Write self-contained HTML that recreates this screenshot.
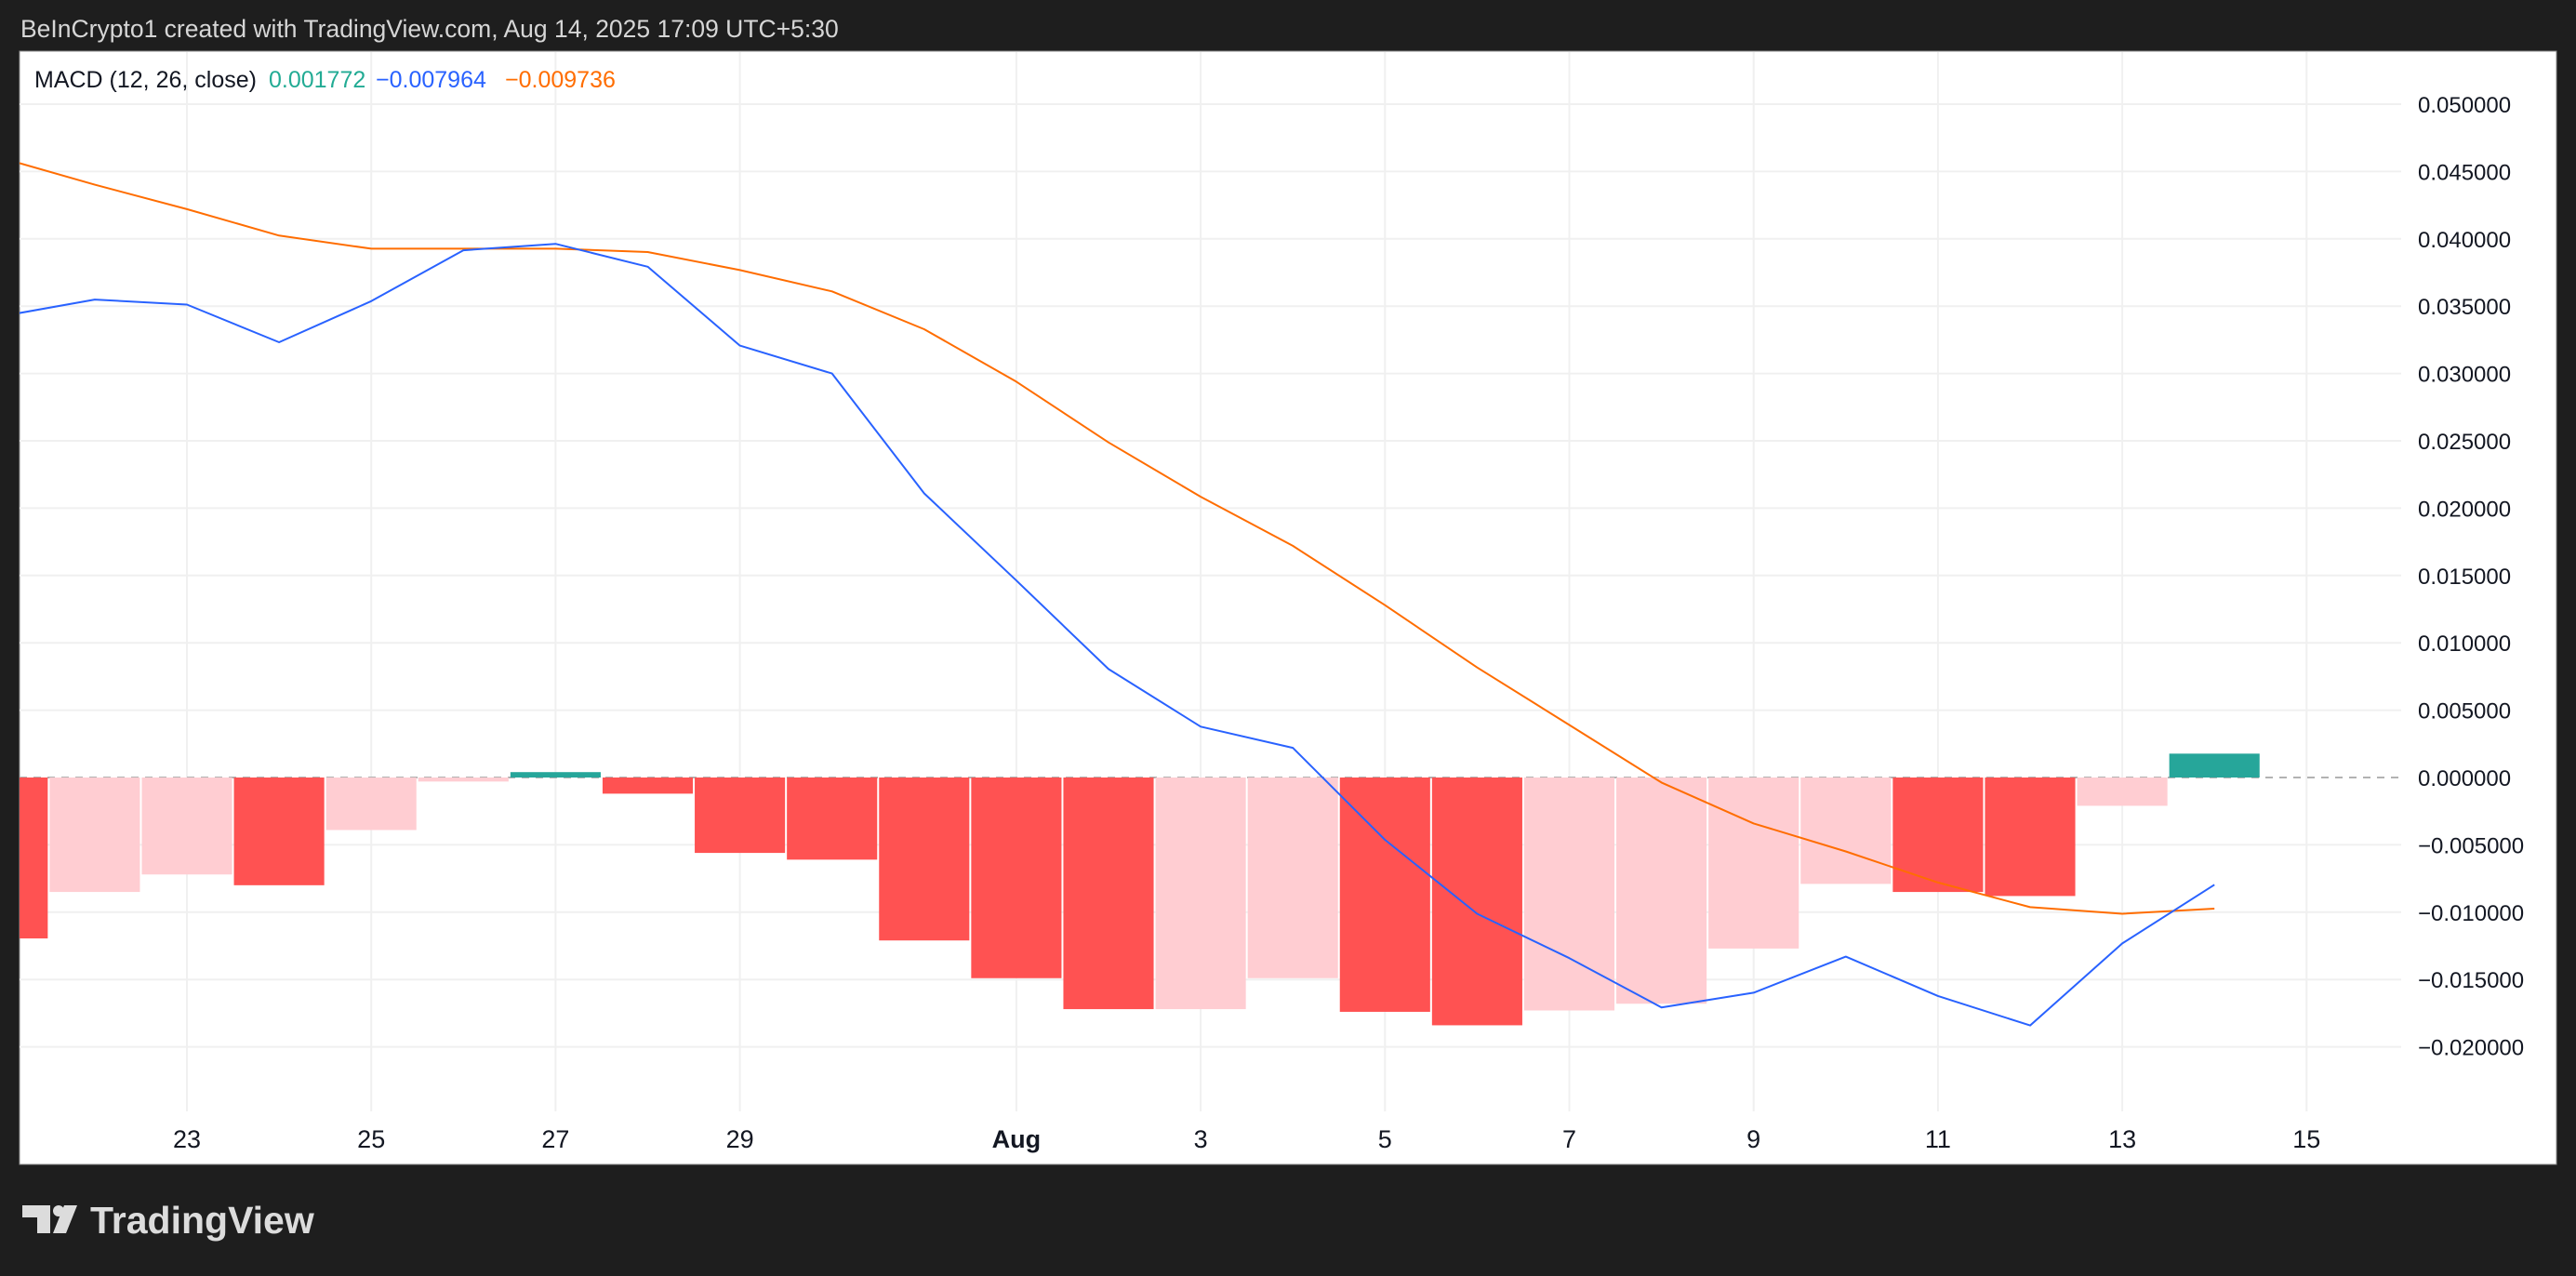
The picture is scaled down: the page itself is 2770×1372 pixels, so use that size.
<!DOCTYPE html>
<html><head><meta charset="utf-8">
<style>
html,body{margin:0;padding:0;background:#1e1e1e;}
svg{display:block;}
text{font-family:"Liberation Sans",sans-serif;}
</style></head>
<body>
<svg id="chart" width="2770" height="1372" viewBox="0 0 2770 1372" xmlns="http://www.w3.org/2000/svg">
  <rect x="0" y="0" width="2770" height="1372" fill="#1e1e1e"/>
  <text x="22" y="40" font-size="26.5" fill="#d6d6d6">BeInCrypto1 created with TradingView.com, Aug 14, 2025 17:09 UTC+5:30</text>
  <rect x="21" y="55" width="2728" height="1197" fill="#ffffff" stroke="#8a8a8a" stroke-width="1"/>
  <g id="grid"></g>
  <g id="zero"></g>
  <defs><clipPath id="plotClip"><rect x="21" y="56" width="2561" height="1195"/></clipPath></defs>
  <g id="bars" clip-path="url(#plotClip)"></g>
  <g id="lines" clip-path="url(#plotClip)"></g>
  <g id="yaxis"></g>
  <g id="xaxis"></g>
  <g>
    <text x="37" y="94" font-size="25" fill="#131722">MACD (12, 26, close)</text>
    <text x="289" y="94" font-size="25" fill="#22ab94">0.001772</text>
    <text x="404" y="94" font-size="25" fill="#2962ff">−0.007964</text>
    <text x="543" y="94" font-size="25" fill="#ff6d00">−0.009736</text>
  </g>
  <g>
    <path d="M24 1296 H54 V1326 H40 V1309 H24 Z" fill="#dcdcdc"/>
    <circle cx="63" cy="1302" r="6" fill="#dcdcdc"/>
    <path d="M69 1296 H83 L71 1326 H57 Z" fill="#dcdcdc"/>
    <text x="97" y="1326" font-size="41" font-weight="bold" fill="#dcdcdc">TradingView</text>
  </g>
</svg>
<script>
const days = [21,22,23,24,25,26,27,28,29,30,31,32,33,34,35,36,37,38,39,40,41,42,43,44,45];
const histValues = [-0.01195,-0.0085,-0.0072,-0.0080,-0.0039,-0.0003,0.0004,-0.0012,-0.0056,-0.0061,-0.0121,-0.0149,-0.0172,-0.0172,-0.0149,-0.0174,-0.0184,-0.0173,-0.0168,-0.0127,-0.0079,-0.0085,-0.0088,-0.0021,0.001772];
const macdValues = [0.03427,0.03549,0.03512,0.03232,0.03537,0.03915,0.03963,0.03793,0.03207,0.0300,0.0211,0.01463,0.00805,0.00378,0.0022,-0.00463,-0.01012,-0.01341,-0.01707,-0.01598,-0.0133,-0.01622,-0.01841,-0.01232,-0.007964];
const signalValues = [0.04598,0.04402,0.0422,0.04024,0.03927,0.03927,0.03927,0.03902,0.03768,0.0361,0.03329,0.02939,0.02488,0.02085,0.0172,0.0128,0.00817,0.0039,-0.00037,-0.00341,-0.00549,-0.0078,-0.00963,-0.01012,-0.009736];
const yTicks = [0.05,0.045,0.04,0.035,0.03,0.025,0.02,0.015,0.01,0.005,0,-0.005,-0.01,-0.015,-0.02];
const xTickDays = [23,25,27,29,32,34,36,38,40,42,44,46];
const xTickLabels = ["23","25","27","29","Aug","3","5","7","9","11","13","15"];

const NS = "http://www.w3.org/2000/svg";
const X0 = 201, DAY = 99.1, Y0 = 836, PER = 72.4/0.005;
const xs = d => X0 + (d - 23) * DAY;
const ys = v => Y0 - v * PER;
function mk(tag, attrs, parent){
  const e = document.createElementNS(NS, tag);
  for (const k in attrs) e.setAttribute(k, attrs[k]);
  document.getElementById(parent).appendChild(e);
  return e;
}
yTicks.forEach(v => {
  if (v === 0) return;
  const l = mk('line', {x1:21, x2:2582, y1:ys(v), y2:ys(v), stroke:'#f0f0f0', 'stroke-width':2}, 'grid');
  
  
});
xTickDays.forEach(d => {
  const l = mk('line', {x1:xs(d), x2:xs(d), y1:56, y2:1195, stroke:'#f0f0f0', 'stroke-width':2}, 'grid');
  
  
});
const z = mk('line', {x1:21, x2:2582, y1:ys(0), y2:ys(0), stroke:'#b2b2b2', 'stroke-width':2, 'stroke-dasharray':'8 7'}, 'zero');


days.forEach((d, i) => {
  const v = histValues[i];
  const prev = i > 0 ? histValues[i-1] : v;
  let color;
  if (v >= 0) color = v >= prev ? '#26a69a' : '#b2dfdb';
  else color = v < prev ? '#ff5252' : '#ffcdd2';
  if (i === 0) color = '#ff5252';
  const top = Math.min(ys(v), ys(0)), h = Math.max(Math.abs(ys(v) - ys(0)), 2);
  const r = mk('rect', {x:xs(d) - DAY/2 + 1, y:top, width:DAY - 2, height:h, fill:color}, 'bars');
  
  
});
function poly(vals, color, name){
  const pts = days.map((d, i) => xs(d).toFixed(1) + ',' + ys(vals[i]).toFixed(1)).join(' ');
  const p = mk('polyline', {points:pts, fill:'none', stroke:color, 'stroke-width':2, 'stroke-linejoin':'round'}, 'lines');
  
  
}
poly(signalValues, '#ff6d00', 'signal-line');
poly(macdValues, '#2962ff', 'macd-line');
yTicks.forEach(v => {
  const s = (v < 0 ? '\u2212' : '') + Math.abs(v).toFixed(6);
  const t = mk('text', {x:2600, y:ys(v) + 9, 'font-size':24, fill:'#131722'}, 'yaxis');
  t.textContent = s;
  
  
});
xTickDays.forEach((d, i) => {
  const t = mk('text', {x:xs(d), y:1234, 'font-size':27, fill:'#131722', 'text-anchor':'middle', 'font-weight': xTickLabels[i] === 'Aug' ? 'bold' : 'normal'}, 'xaxis');
  t.textContent = xTickLabels[i];
  
  
});
</script>
</body></html>
